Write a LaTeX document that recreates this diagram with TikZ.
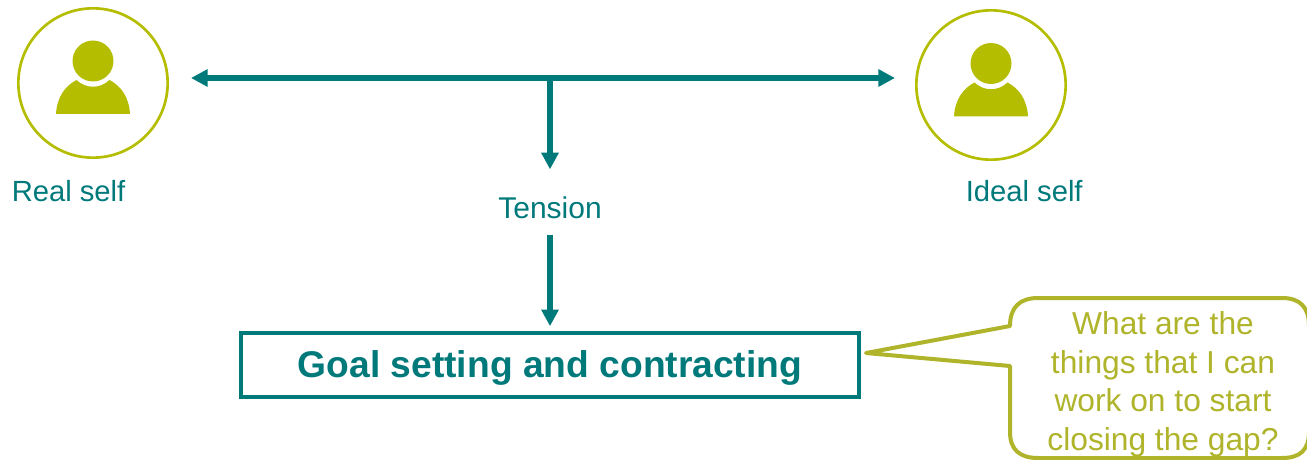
\documentclass[tikz,border=0pt]{standalone}
\usepackage{fontspec}
\setmainfont{Liberation Sans}
\usetikzlibrary{arrows.meta,calc}
\definecolor{tealc}{HTML}{00797B}
\definecolor{olivec}{HTML}{B5BD00}
\definecolor{calloutc}{HTML}{AFB42B}
\tikzset{
  ring/.style={circle,draw=olivec,line width=2pt,fill=white,minimum size=112pt,inner sep=0pt},
  flow/.style={draw=tealc,line width=4pt,-{Triangle[length=12.5pt,width=12.5pt]}},
  label/.style={text=tealc,font=\fontsize{21.9pt}{26pt}\selectfont,inner sep=0pt},
  goalbox/.style={draw=tealc,line width=3pt,fill=white,minimum width=463.5pt,minimum height=48pt,inner sep=0pt,text=tealc,font=\fontsize{27.9pt}{32pt}\selectfont\bfseries},
  bubble/.style={draw=calloutc,line width=3pt,fill=white,line join=round},
  bubbletext/.style={text=calloutc,font=\fontsize{23.8pt}{28.9pt}\selectfont,align=center,inner sep=0pt},
}
\newcommand{\personicon}[1]{%
  \begin{scope}[shift={(#1)}]
    \fill[olivec] (0,-22) circle (20.5);
    \fill[olivec] (-37,31) .. controls (-36,14) and (-28,3) .. (-16.5,-3)
      .. controls (-7,6) and (7,6) .. (16.5,-3)
      .. controls (28,3) and (36,14) .. (37,31) -- cycle;
  \end{scope}}
\begin{document}
\begin{tikzpicture}[x=0.75pt,y=-0.75pt]
\useasboundingbox (0,0) rectangle (1307,460);
\clip (0,0) rectangle (1307,460);
\node[ring] (real) at (93,83) {};
\node[ring] (ideal) at (991,85) {};
\personicon{93,83}
\personicon{991,85.5}
\node[label,anchor=base west] (reallabel) at (11.5,201) {Real self};
\node[label,anchor=base west] (ideallabel) at (965.5,201) {Ideal self};
\node[label,anchor=base,font=\fontsize{22.5pt}{26pt}\selectfont] (tension) at (550,218) {Tension};
\node[goalbox] (goal) at (550,365) {\raisebox{-9pt}[0pt][0pt]{Goal setting and contracting}};
\coordinate (junction) at (550,78);
\coordinate (leftend) at (191,78);
\coordinate (rightend) at (895,78);
\coordinate (tip) at (866,353);
\draw[flow] (junction) -- (leftend);
\draw[flow] (junction) -- (rightend);
\draw[flow,shorten <=-1.8pt,shorten >=20pt] (junction) -- (tension.north);
\draw[flow,shorten <=12.5pt,shorten >=3.6pt] (tension.south) -- (goal.north);
\draw[bubble] (tip) -- (1010,326)
  .. controls (1010,307) and (1020,298) .. (1038,298)
  -- (1282,298)
  .. controls (1300,298) and (1309,307) .. (1309,326)
  -- (1309,432)
  .. controls (1309,450) and (1300,458) .. (1282,458)
  -- (1038,458)
  .. controls (1020,458) and (1010,450) .. (1010,432)
  -- (1010,366) -- cycle;
\node[bubbletext] (question) at (1163,384.5) {What are the\\things that I can\\work on to start\\closing the gap?};
\end{tikzpicture}
\end{document}
